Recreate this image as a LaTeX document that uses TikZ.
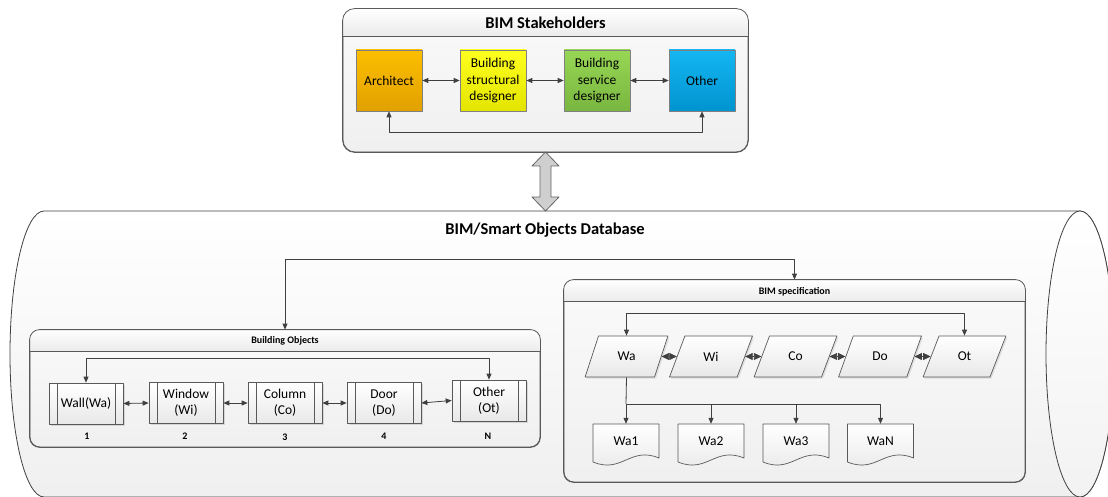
\documentclass[tikz,border=0pt]{standalone}
\usepackage{fontspec}
\setmainfont{Carlito}
\usetikzlibrary{arrows.meta,shapes.geometric,calc,shadows}
\definecolor{lnc}{HTML}{404040}
\definecolor{archT}{HTML}{FDBE00}\definecolor{archB}{HTML}{E1A100}
\definecolor{strT}{HTML}{FFFF20}\definecolor{strB}{HTML}{E4E400}
\definecolor{serT}{HTML}{98D655}\definecolor{serB}{HTML}{78B640}
\definecolor{othT}{HTML}{14B6F2}\definecolor{othB}{HTML}{0094D0}
\newcommand{\docnode}[4]{%
  \begin{scope}[shift={(#2,#3)}]
    \path[docfill] (-33,-17) -- (33,-17) -- (33,17) .. controls (4,5) and (-4,33) .. (-33,21) -- cycle;
  \end{scope}
  \node[doct] (#1) at (#2,#3) {#4};}
\newcommand{\titlebar}[3]{%
  \begin{scope}
    \clip[rounded corners=#3] (#1.north west) rectangle (#1.south east);
    \shade[top color=white, bottom color=gray!16] (#1.north west) rectangle ($(#1.north east)+(0,#2)$);
  \end{scope}
  \draw[draw=black!65, line width=0.8pt] ($(#1.north west)+(0,#2)$) -- ($(#1.north east)+(0,#2)$);
  \draw[draw=black!65, line width=0.8pt, rounded corners=#3] (#1.north west) rectangle (#1.south east);}
\begin{document}
\begin{tikzpicture}[x=1pt,y=-1pt,line join=round,
  conn/.style={draw=lnc, line width=0.8pt, >={Triangle[length=6pt,width=5pt]}},
  bconn/.style={draw=lnc, line width=0.8pt, >={Triangle[length=7.5pt,width=7pt]}},
  cont/.style={rectangle, rounded corners=#1, draw=black!65, line width=0.8pt,
     top color=gray!4, bottom color=gray!12, inner sep=0pt},
  sbox/.style={rectangle, minimum width=66pt, minimum height=61pt, inner sep=1pt,
     align=center, font=\fontsize{13.5}{16.3}\selectfont, text=black,
     draw=black!50, line width=0.6pt},
  item/.style={rectangle, draw=black!65, line width=0.7pt, top color=white, bottom color=gray!18,
     minimum width=74pt, minimum height=41pt, align=center, inner sep=1pt,
     font=\fontsize{13.5}{16}\selectfont, text=black,
     drop shadow={shadow xshift=1.5pt, shadow yshift=-1.5pt, opacity=0.25},
     path picture={\draw[black!65, line width=0.6pt]
        ([xshift=8pt]path picture bounding box.north west) -- ([xshift=8pt]path picture bounding box.south west)
        ([xshift=-8pt]path picture bounding box.north east) -- ([xshift=-8pt]path picture bounding box.south east);}},
  para/.style={trapezium, trapezium left angle=66, trapezium right angle=114, trapezium stretches=true,
     minimum width=83pt, minimum height=41pt, inner sep=1pt, draw=black!65, line width=0.7pt,
     top color=white, bottom color=gray!18, font=\fontsize{13.5}{16}\selectfont, text=black,
     drop shadow={shadow xshift=1.5pt, shadow yshift=-1.5pt, opacity=0.2}},
  docfill/.style={draw=black!65, line width=0.7pt, top color=white, bottom color=gray!18},
  doct/.style={rectangle, minimum width=66pt, minimum height=34pt, inner sep=0pt,
     font=\fontsize{13.5}{16}\selectfont, text=black},
  numl/.style={font=\fontsize{10}{12}\selectfont\bfseries, text=black, inner sep=0pt},
  ttl/.style={font=\fontsize{16.5}{19}\selectfont\bfseries, text=black, inner sep=0pt},
  sttl/.style={font=\fontsize{10}{12}\selectfont\bfseries, text=black, inner sep=0pt}
]
\useasboundingbox (0,0) rectangle (1108,497);
\clip (0,0) rectangle (1108,497);
\fill[white] (0,0) rectangle (1108,497);

% database cylinder
\path[draw=black!75, line width=0.8pt, top color=white, bottom color=gray!12]
  (1080,211) -- (44,211) arc[start angle=270, end angle=90, x radius=34, y radius=143]
  -- (1080,497) arc[start angle=90, end angle=-90, x radius=34, y radius=143] -- cycle;
\path[draw=black!75, line width=0.8pt, top color=white, bottom color=gray!10]
  (1080,354) ellipse[x radius=34, y radius=143];
\node[ttl] (dbt) at (545,230) {BIM/Smart Objects Database};

% stakeholders container
\node[cont=12pt, minimum width=405pt, minimum height=143pt] (stake) at (545.5,80.5) {};
\titlebar{stake}{28}{12pt}
\node[ttl] (stt) at (545.5,23) {BIM Stakeholders};
\node[sbox, top color=archT, bottom color=archB] (arch) at (389,80.5) {Architect};
\node[sbox, top color=strT, bottom color=strB] (str) at (493,80.5) {Building\\structural\\designer};
\node[sbox, top color=serT, bottom color=serB] (ser) at (597,80.5) {Building\\service\\designer};
\node[sbox, top color=othT, bottom color=othB] (oth) at (702,80.5) {Other};
\draw[conn,<->] (arch.east) -- (str.west);
\draw[conn,<->] (str.east) -- (ser.west);
\draw[conn,<->] (ser.east) -- (oth.west);
\draw[conn,<->] (arch.south) -- ++(0,21) -| (oth.south);

% block double arrow
\path[draw=black!60, line width=0.8pt, fill=gray!38]
  (545.5,152) -- (559,166) -- (551,166) -- (551,197) -- (559,197) -- (545.5,211)
  -- (532,197) -- (540,197) -- (540,166) -- (532,166) -- cycle;

% building objects container
\node[cont=10pt, minimum width=510pt, minimum height=117pt] (bo) at (285,388.5) {};
\titlebar{bo}{22}{10pt}
\node[sttl] (bot) at (285,340.5) {Building Objects};
\node[item] (wall) at (86,403.5) {Wall(Wa)};
\node[item] (win) at (186,403) {Window\\(Wi)};
\node[item] (col) at (285,403) {Column\\(Co)};
\node[item] (door) at (384,403) {Door\\(Do)};
\node[item] (ot) at (489,400.5) {Other\\(Ot)};
\node[numl] (n1) at (87,436) {1};
\node[numl] (n2) at (185,436) {2};
\node[numl] (n3) at (285,437) {3};
\node[numl] (n4) at (384,436) {4};
\node[numl] (nN) at (488,436) {N};
\draw[conn,<->] (wall.east) -- (win.west);
\draw[conn,<->] (win.east) -- (col.west);
\draw[conn,<->] (col.east) -- (door.west);
\draw[conn,<->] (door.east) -- (ot.west);
\draw[conn,<->] (wall.north) -- ++(0,-24) -| (ot.north);

% BIM specification container
\node[cont=10pt, minimum width=461pt, minimum height=202pt] (spec) at (794.5,381) {};
\titlebar{spec}{22}{10pt}
\node[sttl] (spt) at (794.5,292) {BIM specification};
\draw[conn,<->] (bo.north) -- ++(0,-70) -| (spec.north);

\node[para] (pwa) at (626.5,356.5) {Wa};
\node[para] (pwi) at (711,356.5) {Wi};
\node[para] (pco) at (795.5,356.5) {Co};
\node[para] (pdo) at (880,356.5) {Do};
\node[para] (pot) at (964.5,356.5) {Ot};
\draw[bconn,<->] (pwa.east) -- (pwi.west);
\draw[bconn,<->] (pwi.east) -- (pco.west);
\draw[bconn,<->] (pco.east) -- (pdo.west);
\draw[bconn,<->] (pdo.east) -- (pot.west);
\draw[conn,<->] (pwa.north -| pwa.center) -- ++(0,-22) -| (pot.north -| pot.center);

\docnode{d1}{626}{441}{Wa1}
\docnode{d2}{711}{441}{Wa2}
\docnode{d3}{796}{441}{Wa3}
\docnode{d4}{880.5}{441}{WaN}
\coordinate (br) at (626,404);
\draw[conn] (pwa.south -| pwa.center) -- (br);
\draw[conn,->] (br) -- (d1.north);
\draw[conn,->] (br) -| (d2.north);
\draw[conn,->] (br) -| (d3.north);
\draw[conn,->] (br) -| (d4.north);
\end{tikzpicture}
\end{document}
